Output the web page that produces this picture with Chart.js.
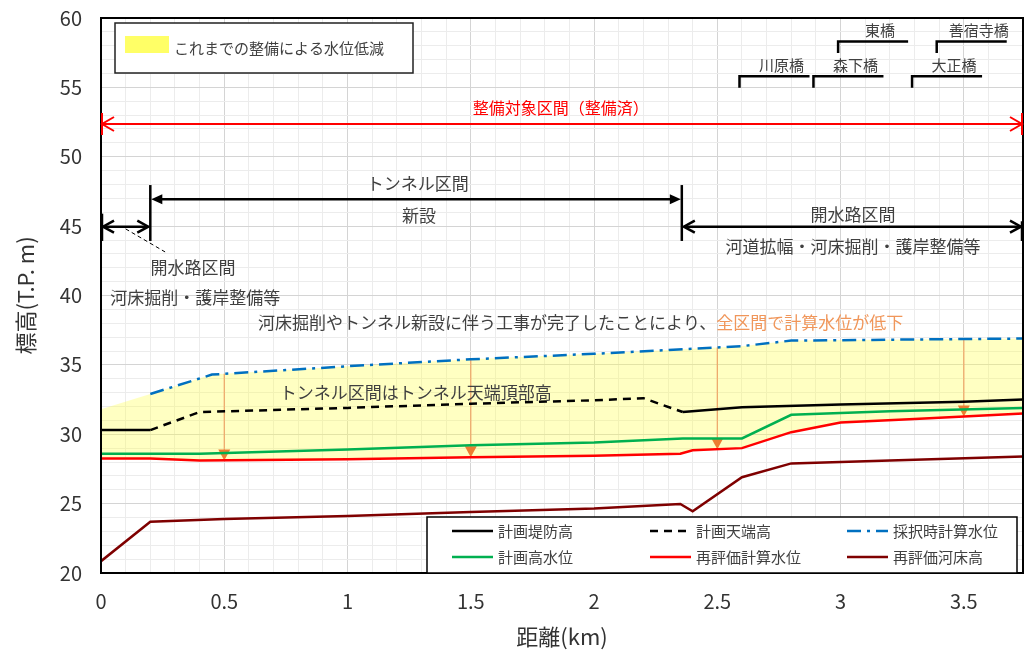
<!DOCTYPE html>
<html>
<head>
<meta charset="utf-8">
<script src="https://cdn.jsdelivr.net/npm/chart.js@4.4.1/dist/chart.umd.min.js"></script>
<style>
  html, body { margin: 0; padding: 0; background: #fff; }
</style>
</head>
<body>
<canvas id="profile" width="1027" height="654"></canvas>
<script>
// 距離(km) と標高(T.P. m) — 図から読み取った値
const kmTeibo   = [0, 0.2, 1.2, 2.36, 2.6, 3.0, 3.5, 3.74];
const hTeibo    = [30.3, 30.3, null, 31.6, 31.95, 32.15, 32.35, 32.5];
const kmTenba   = [0.2, 0.4, 1.0, 1.5, 2.0, 2.2, 2.36];
const hTenba    = [30.3, 31.6, 31.9, 32.2, 32.45, 32.6, 31.6];
const kmSaitaku = [0.2, 0.45, 1.0, 1.5, 2.0, 2.6, 2.8, 3.74];
const hSaitaku  = [32.9, 34.3, 34.9, 35.4, 35.8, 36.35, 36.75, 36.9];
const kmKeikaku = [0, 0.4, 1.0, 1.5, 2.0, 2.36, 2.6, 2.8, 3.2, 3.74];
const hKeikaku  = [28.6, 28.6, 28.9, 29.2, 29.4, 29.7, 29.7, 31.4, 31.65, 31.9];
const kmSaiWL   = [0, 0.2, 0.4, 1.0, 1.5, 2.0, 2.35, 2.4, 2.6, 2.8, 3.0, 3.3, 3.74];
const hSaiWL    = [28.25, 28.25, 28.1, 28.2, 28.35, 28.45, 28.6, 28.85, 29.0, 30.15, 30.85, 31.1, 31.5];
const kmBed     = [0, 0.2, 0.5, 1.0, 1.5, 2.0, 2.35, 2.4, 2.6, 2.8, 3.2, 3.74];
const hBed      = [20.85, 23.7, 23.9, 24.1, 24.4, 24.65, 24.97, 24.45, 26.9, 27.9, 28.1, 28.4];
// 水位低減範囲の上端 (採択時計算水位を上流端まで延長)
const kmGensui  = [0, ...kmSaitaku];
const hGensui   = [31.8, ...hSaitaku];

const arrowKm = [0.5, 1.5, 2.5, 3.5];

const bridgeNames = ['川原橋', '森下橋', '東橋', '大正橋', '善宿寺橋'];
const bridgeKm    = [2.59, 2.89, 2.99, 3.29, 3.39];
const bridgeLevel = [55.8, 55.8, 58.3, 55.8, 58.3];

const FONT = '"Noto Sans CJK JP", "Noto Sans", sans-serif';
const TXT = '#404040';

const pts = (xs, ys) => xs.map((x, i) => ({ x: x, y: ys[i] }));
const isStep = (v, s) => Math.abs(v / s - Math.round(v / s)) < 1e-6;

function interp(xs, ys, k) {
  for (let i = 1; i < xs.length; i++) {
    if (k <= xs[i]) {
      const t = (k - xs[i - 1]) / (xs[i] - xs[i - 1]);
      return ys[i - 1] + t * (ys[i] - ys[i - 1]);
    }
  }
  return ys[ys.length - 1];
}

function chevron(ctx, x, y, dir, len, half) {
  ctx.beginPath();
  ctx.moveTo(x - dir * len, y - half);
  ctx.lineTo(x, y);
  ctx.lineTo(x - dir * len, y + half);
  ctx.stroke();
}
function tri(ctx, x, y, dir, len, half) {
  ctx.beginPath();
  ctx.moveTo(x, y);
  ctx.lineTo(x - dir * len, y - half);
  ctx.lineTo(x - dir * len, y + half);
  ctx.closePath();
  ctx.fill();
}
function line(ctx, x1, y1, x2, y2) {
  ctx.beginPath(); ctx.moveTo(x1, y1); ctx.lineTo(x2, y2); ctx.stroke();
}
function text(ctx, s, x, y, color, size, align) {
  ctx.font = size + 'px ' + FONT;
  ctx.fillStyle = color;
  ctx.textAlign = align || 'center';
  ctx.textBaseline = 'middle';
  ctx.fillText(s, x, y);
}

const decorations = {
  id: 'decorations',
  beforeDatasetsDraw(chart) {
    const { ctx, scales: { x, y } } = chart;
    ctx.save();
    arrowKm.forEach(k => {
      const px = x.getPixelForValue(k);
      const top = y.getPixelForValue(interp(kmSaitaku, hSaitaku, k));
      const bot = y.getPixelForValue(interp(kmSaiWL, hSaiWL, k));
      ctx.strokeStyle = 'rgba(240,150,90,0.8)';
      ctx.lineWidth = 1.25;
      line(ctx, px, top, px, bot - 10);
      ctx.fillStyle = '#ED7D31';
      ctx.beginPath();
      ctx.moveTo(px, bot); ctx.lineTo(px - 6, bot - 11); ctx.lineTo(px + 6, bot - 11);
      ctx.closePath(); ctx.fill();
    });
    ctx.restore();
  },
  afterDraw(chart) {
    const { ctx, chartArea: a, scales: { x, y } } = chart;
    const X = v => x.getPixelForValue(v), Y = v => y.getPixelForValue(v);
    ctx.save();

    // 枠
    ctx.strokeStyle = '#000';
    ctx.lineWidth = 2;
    ctx.strokeRect(a.left, a.top, a.right - a.left, a.bottom - a.top);

    // 整備対象区間
    ctx.strokeStyle = '#FF0000';
    ctx.lineWidth = 2;
    const ry = Y(52.36);
    line(ctx, a.left, ry, a.right, ry);
    line(ctx, a.left + 1, ry - 11, a.left + 1, ry + 11);
    line(ctx, a.right - 1, ry - 11, a.right - 1, ry + 11);
    chevron(ctx, a.left + 1, ry, -1, 12, 7);
    chevron(ctx, a.right - 1, ry, 1, 12, 7);
    text(ctx, '整備対象区間（整備済）', X(1.865), Y(53.5), '#FF0000', 16);

    // 区間矢印
    ctx.strokeStyle = '#000';
    ctx.fillStyle = '#000';
    ctx.lineWidth = 2.5;
    const tx0 = X(0.2), tx1 = X(2.356), kTop = Y(47.96), kBot = Y(43.93);
    line(ctx, tx0, kTop, tx0, kBot);
    line(ctx, tx1, kTop, tx1, kBot);
    line(ctx, a.left + 1, Y(45.9), a.left + 1, kBot);
    line(ctx, a.right - 1, Y(45.35), a.right - 1, kBot);
    const ty = Y(46.93);
    line(ctx, tx0 + 8, ty, tx1 - 8, ty);
    tri(ctx, tx0 + 1, ty, -1, 11, 5);
    tri(ctx, tx1 - 1, ty, 1, 11, 5);
    const oy = Y(44.96);
    line(ctx, a.left + 2, oy, tx0 - 2, oy);
    chevron(ctx, a.left + 2, oy, -1, 11, 6);
    chevron(ctx, tx0 - 2, oy, 1, 11, 6);
    line(ctx, tx1 + 2, oy, a.right - 2, oy);
    chevron(ctx, tx1 + 2, oy, -1, 11, 6);
    chevron(ctx, a.right - 2, oy, 1, 11, 6);
    ctx.lineWidth = 1;
    ctx.setLineDash([4, 3]);
    line(ctx, X(0.1), Y(44.8), X(0.26), Y(43.14));
    ctx.setLineDash([]);

    text(ctx, 'トンネル区間', X(1.285), Y(48.04), TXT, 17);
    text(ctx, '新設', X(1.29), Y(45.73), TXT, 17);
    text(ctx, '開水路区間', X(0.373), Y(41.98), TXT, 17);
    text(ctx, '河床掘削・護岸整備等', X(0.382), Y(39.84), TXT, 17);
    text(ctx, '開水路区間', X(3.05), Y(45.8), TXT, 17);
    text(ctx, '河道拡幅・河床掘削・護岸整備等', X(3.05), Y(43.5), TXT, 17);
    text(ctx, 'トンネル区間はトンネル天端頂部高', X(1.277), Y(32.97), TXT, 17);

    const s1 = '河床掘削やトンネル新設に伴う工事が完了したことにより、';
    const sx = X(0.637), sy = Y(38.02);
    text(ctx, s1, sx, sy, TXT, 17, 'left');
    const w1 = ctx.measureText(s1).width;
    text(ctx, '全区間で計算水位が低下', sx + w1, sy, '#F0965A', 17, 'left');

    // 橋梁
    ctx.strokeStyle = '#000';
    ctx.lineWidth = 2.5;
    bridgeNames.forEach((n, i) => {
      const bx = X(bridgeKm[i]), by = Y(bridgeLevel[i]);
      const ex = X(bridgeKm[i] + 0.284);
      ctx.beginPath();
      ctx.moveTo(bx, by + 11.5); ctx.lineTo(bx, by); ctx.lineTo(ex, by);
      ctx.stroke();
      text(ctx, n, (bx + ex) / 2 + 7, by - 11, TXT, 15);
    });

    // 凡例 (水位低減)
    ctx.lineWidth = 1.5;
    ctx.strokeStyle = '#222';
    ctx.fillStyle = '#fff';
    ctx.fillRect(115, 23, 298, 50);
    ctx.strokeRect(115, 23, 298, 50);
    ctx.fillStyle = '#FFFF66';
    ctx.fillRect(125, 36, 44, 17);
    text(ctx, 'これまでの整備による水位低減', 174, 48, TXT, 15, 'left');

    // 凡例 (線)
    ctx.fillStyle = '#fff';
    ctx.fillRect(427, 517, 590, 56);
    ctx.strokeStyle = '#000';
    ctx.lineWidth = 1.5;
    ctx.strokeRect(427, 517, 590, 56);
    const colX = [452, 650, 847], rowY = [531, 557];
    chart.data.datasets.slice(0, 6).forEach((ds, i) => {
      const lx = colX[i % 3], ly = rowY[Math.floor(i / 3)];
      ctx.strokeStyle = ds.borderColor;
      ctx.lineWidth = ds.borderWidth;
      ctx.setLineDash(ds.borderDash || []);
      line(ctx, lx, ly, lx + 41, ly);
      ctx.setLineDash([]);
      text(ctx, ds.label, lx + 46, ly, TXT, 15, 'left');
    });

    ctx.restore();
  }
};

new Chart(document.getElementById('profile'), {
  type: 'line',
  plugins: [decorations],
  data: {
    datasets: [
      { label: '計画堤防高', data: pts(kmTeibo, hTeibo), borderColor: '#000000', borderWidth: 2.5 },
      { label: '計画天端高', data: pts(kmTenba, hTenba), borderColor: '#000000', borderWidth: 2.5, borderDash: [8, 6] },
      { label: '採択時計算水位', data: pts(kmSaitaku, hSaitaku), borderColor: '#0070C0', borderWidth: 2.5, borderDash: [14, 6, 3, 6] },
      { label: '計画高水位', data: pts(kmKeikaku, hKeikaku), borderColor: '#00B050', borderWidth: 2.5 },
      { label: '再評価計算水位', data: pts(kmSaiWL, hSaiWL), borderColor: '#FF0000', borderWidth: 2.5 },
      { label: '再評価河床高', data: pts(kmBed, hBed), borderColor: '#7F0000', borderWidth: 2.5 },
      { label: 'これまでの整備による水位低減', data: pts(kmGensui, hGensui), borderWidth: 0,
        borderColor: 'rgba(0,0,0,0)', backgroundColor: 'rgba(255,255,80,0.35)', fill: 4 }
    ]
  },
  options: {
    responsive: false,
    animation: false,
    spanGaps: false,
    elements: { point: { radius: 0 }, line: { tension: 0 } },
    layout: { padding: { top: 18, right: 4, left: 0, bottom: 0 } },
    plugins: {
      legend: { display: false },
      tooltip: { enabled: false },
      filler: { propagate: false, drawTime: 'beforeDatasetsDraw' }
    },
    scales: {
      x: {
        type: 'linear',
        min: 0,
        max: 3.74,
        afterFit(scale) {
          scale.height = 81;
          scale.paddingLeft = 0; scale.paddingRight = 0;
          scale.paddingTop = 0; scale.paddingBottom = 0;
        },
        border: { display: false },
        grid: {
          drawTicks: false,
          color: c => c.tick && isStep(c.tick.value, 0.5) ? '#d4d4d4' : '#ececec'
        },
        ticks: {
          stepSize: 0.1,
          padding: 16,
          maxRotation: 0,
          autoSkip: false,
          color: '#333',
          font: { family: FONT, size: 20 },
          callback: v => isStep(v, 0.5) ? String(v) : ''
        },
        title: {
          display: true,
          text: '距離(km)',
          color: '#333',
          font: { family: FONT, size: 22 },
          padding: { top: 0, bottom: 4 }
        }
      },
      y: {
        type: 'linear',
        min: 20,
        max: 60,
        afterFit(scale) {
          scale.width = 101;
          scale.paddingLeft = 0; scale.paddingRight = 0;
          scale.paddingTop = 0; scale.paddingBottom = 0;
        },
        border: { display: false },
        grid: {
          drawTicks: false,
          color: c => c.tick && isStep(c.tick.value, 5) ? '#d4d4d4' : '#ececec'
        },
        ticks: {
          stepSize: 1,
          padding: 19,
          autoSkip: false,
          color: '#333',
          font: { family: FONT, size: 20 },
          callback: v => isStep(v, 5) ? String(v) : ''
        },
        title: {
          display: true,
          text: '標高(T.P. m)',
          color: '#333',
          font: { family: FONT, size: 22 },
          padding: { top: 12, bottom: 0 }
        }
      }
    }
  }
});
</script>
</body>
</html>
